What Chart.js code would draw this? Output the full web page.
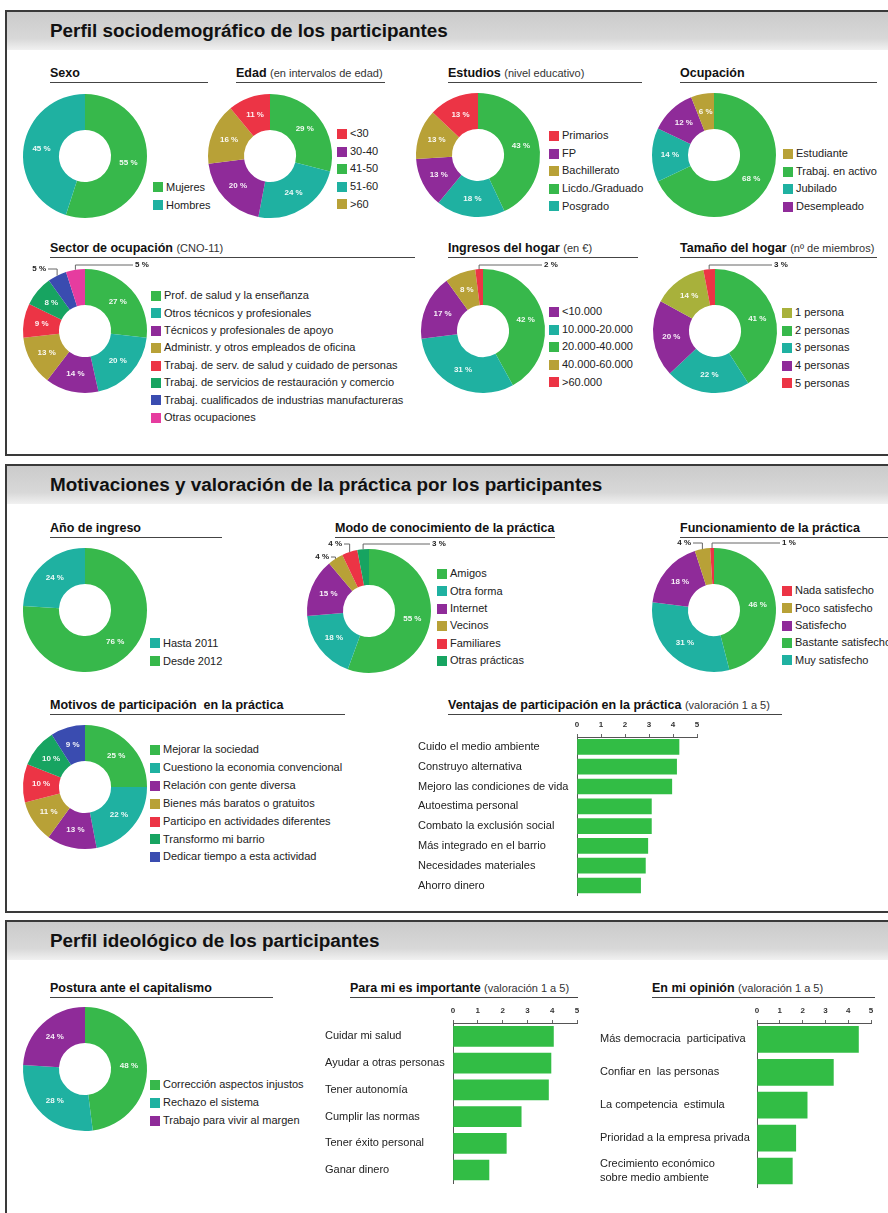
<!DOCTYPE html>
<html lang="es">
<head>
<meta charset="utf-8">
<title>Perfil de los participantes</title>
<script src="https://cdn.jsdelivr.net/npm/chart.js@4.4.1/dist/chart.umd.min.js"></script>
<style>
  body { margin: 0; width: 888px; height: 1213px; position: relative; overflow: hidden; background: #fff;
         font-family: "Liberation Sans", Arial, sans-serif; color: #222; }
  .panel { position: absolute; left: 5px; width: 900px; border: 2px solid #3a3a3a; border-right: none; box-sizing: border-box; }
  .band { height: 38px; background: linear-gradient(#cbcbcb, #d8d8d8 70%, #f1f1f1); }
  .band h1 { margin: 0; font-size: 18.9px; font-weight: bold; line-height: 38px; padding-left: 43px; color: #111; }
  .sub { position: absolute; height: 16px; border-bottom: 1px solid #444; font-size: 12.5px; font-weight: bold;
         line-height: 15px; white-space: nowrap; color: #111; }
  .sub span { font-weight: normal; font-size: 11px; color: #333; }
  .legend { position: absolute; font-size: 11px; white-space: nowrap; color: #222; }
  .legend div { position: relative; padding-left: 13px; }
  .legend i { position: absolute; left: 0; width: 10px; height: 10px; }
  canvas { position: absolute; }
</style>
</head>
<body>

<div class="panel" style="top:10px;height:446px"><div class="band"><h1>Perfil sociodemográfico de los participantes</h1></div></div>
<div class="panel" style="top:464px;height:449px"><div class="band"><h1>Motivaciones y valoración de la práctica por los participantes</h1></div></div>
<div class="panel" style="top:920px;height:400px"><div class="band"><h1>Perfil ideológico de los participantes</h1></div></div>

<div class="sub" style="left:50px;top:66px;width:158px">Sexo</div>
<div class="sub" style="left:236px;top:66px;width:149px">Edad <span>(en intervalos de edad)</span></div>
<div class="sub" style="left:448px;top:66px;width:194px">Estudios <span>(nivel educativo)</span></div>
<div class="sub" style="left:680px;top:66px;width:197px">Ocupación</div>
<div class="sub" style="left:50px;top:241px;width:365px">Sector de ocupación <span>(CNO-11)</span></div>
<div class="sub" style="left:448px;top:241px;width:190px">Ingresos del hogar <span>(en €)</span></div>
<div class="sub" style="left:680px;top:241px;width:197px">Tamaño del hogar <span>(nº de miembros)</span></div>

<div class="sub" style="left:50px;top:521px;width:172px">Año de ingreso</div>
<div class="sub" style="left:335px;top:521px;width:220px">Modo de conocimiento de la práctica</div>
<div class="sub" style="left:680px;top:521px;width:210px">Funcionamiento de la práctica</div>
<div class="sub" style="left:50px;top:698px;width:295px">Motivos de participación&nbsp; en la práctica</div>
<div class="sub" style="left:448px;top:698px;width:334px">Ventajas de participación en la práctica <span>(valoración 1 a 5)</span></div>

<div class="sub" style="left:50px;top:981px;width:223px">Postura ante el capitalismo</div>
<div class="sub" style="left:350px;top:981px;width:228px">Para mi es importante <span>(valoración 1 a 5)</span></div>
<div class="sub" style="left:652px;top:981px;width:223px">En mi opinión <span>(valoración 1 a 5)</span></div>

<script>
const FONT = '"Liberation Sans", Arial, sans-serif';
Chart.defaults.font.family = FONT;

const GREEN = '#37b84b', TEAL = '#1fb1a1', PURPLE = '#8f2b99', OLIVE = '#b8a137', RED = '#ec3445',
      DKGREEN = '#17a461', BLUE = '#3a4cb0', PINK = '#e63c9f', YOLIVE = '#a8b13b', BARGREEN = '#32bd45';

// ---- doughnut data (legend order) + order of the slices clockwise from the top
const sexoLabels = ['Mujeres', 'Hombres'];
const sexoValues = [55, 45];
const sexoColors = [GREEN, TEAL];
const sexoOrder = [0, 1];

const edadLabels = ['<30', '30-40', '41-50', '51-60', '>60'];
const edadValues = [11, 20, 29, 24, 16];
const edadColors = [RED, PURPLE, GREEN, TEAL, OLIVE];
const edadOrder = [2, 3, 1, 4, 0];

const estudiosLabels = ['Primarios', 'FP', 'Bachillerato', 'Licdo./Graduado', 'Posgrado'];
const estudiosValues = [13, 13, 13, 43, 18];
const estudiosColors = [RED, PURPLE, OLIVE, GREEN, TEAL];
const estudiosOrder = [3, 4, 1, 2, 0];

const ocupLabels = ['Estudiante', 'Trabaj. en activo', 'Jubilado', 'Desempleado'];
const ocupValues = [6, 68, 14, 12];
const ocupColors = [OLIVE, GREEN, TEAL, PURPLE];
const ocupOrder = [1, 2, 3, 0];

const sectorLabels = ['Prof.  de salud  y la enseñanza', 'Otros técnicos y profesionales', 'Técnicos y profesionales de apoyo',
  'Administr. y otros empleados de oficina', 'Trabaj. de serv. de  salud y cuidado de personas',
  'Trabaj. de servicios de restauración y comercio', 'Trabaj. cualificados de industrias manufactureras', 'Otras ocupaciones'];
const sectorValues = [27, 20, 14, 13, 9, 8, 5, 5];
const sectorColors = [GREEN, TEAL, PURPLE, OLIVE, RED, DKGREEN, BLUE, PINK];
const sectorOrder = [0, 1, 2, 3, 4, 5, 6, 7];

const ingresosLabels = ['<10.000', '10.000-20.000', '20.000-40.000', '40.000-60.000', '>60.000'];
const ingresosValues = [17, 31, 42, 8, 2];
const ingresosColors = [PURPLE, TEAL, GREEN, OLIVE, RED];
const ingresosOrder = [2, 1, 0, 3, 4];

const tamanoLabels = ['1 persona', '2 personas', '3 personas', '4 personas', '5 personas'];
const tamanoValues = [14, 41, 22, 20, 3];
const tamanoColors = [YOLIVE, GREEN, TEAL, PURPLE, RED];
const tamanoOrder = [1, 2, 3, 0, 4];

const anoLabels = ['Hasta 2011', 'Desde 2012'];
const anoValues = [24, 76];
const anoColors = [TEAL, GREEN];
const anoOrder = [1, 0];

const modoLabels = ['Amigos', 'Otra forma', 'Internet', 'Vecinos', 'Familiares', 'Otras prácticas'];
const modoValues = [55, 18, 15, 4, 4, 3];
const modoColors = [GREEN, TEAL, PURPLE, OLIVE, RED, DKGREEN];
const modoOrder = [0, 1, 2, 3, 4, 5];

const funcLabels = ['Nada satisfecho', 'Poco satisfecho', 'Satisfecho', 'Bastante satisfecho', 'Muy satisfecho'];
const funcValues = [1, 4, 18, 46, 31];
const funcColors = [RED, OLIVE, PURPLE, GREEN, TEAL];
const funcOrder = [3, 4, 2, 1, 0];

const motivosLabels = ['Mejorar la sociedad', 'Cuestiono la economia convencional', 'Relación con gente diversa',
  'Bienes más baratos o gratuitos', 'Participo en actividades diferentes', 'Transformo mi barrio', 'Dedicar tiempo a esta actividad'];
const motivosValues = [25, 22, 13, 11, 10, 10, 9];
const motivosColors = [GREEN, TEAL, PURPLE, OLIVE, RED, DKGREEN, BLUE];
const motivosOrder = [0, 1, 2, 3, 4, 5, 6];

const posturaLabels = ['Corrección aspectos injustos', 'Rechazo el sistema', 'Trabajo para vivir al margen'];
const posturaValues = [48, 28, 24];
const posturaColors = [GREEN, TEAL, PURPLE];
const posturaOrder = [0, 1, 2];

// ---- bar data (valoración 1 a 5)
const ventajasLabels = ['Cuido el medio ambiente', 'Construyo alternativa', 'Mejoro las condiciones de vida', 'Autoestima personal',
  'Combato la exclusión social', 'Más integrado en el barrio', 'Necesidades materiales', 'Ahorro dinero'];
const ventajasValues = [4.25, 4.15, 3.95, 3.1, 3.1, 2.95, 2.85, 2.65];

const importanteLabels = ['Cuidar mi salud', 'Ayudar a otras personas', 'Tener autonomía', 'Cumplir las normas', 'Tener éxito personal', 'Ganar dinero'];
const importanteValues = [4.05, 3.95, 3.85, 2.75, 2.15, 1.45];

const opinionLabels = ['Más democracia  participativa', 'Confiar en  las personas', 'La competencia  estimula',
  'Prioridad a la empresa privada', ['Crecimiento económico', 'sobre medio ambiente']];
const opinionValues = [4.45, 3.35, 2.2, 1.7, 1.55];

// percent labels inside the ring, or outside with a leader line for thin slices
const sliceLabels = {
  id: 'sliceLabels',
  afterDatasetsDraw(chart, args, opts) {
    const ctx = chart.ctx;
    const vals = chart.data.datasets[0].data;
    const leaders = opts.leaders || [];
    ctx.save();
    ctx.font = 'bold 8px ' + FONT;
    ctx.textBaseline = 'middle';
    chart.getDatasetMeta(0).data.forEach((arc, i) => {
      const p = arc.getProps(['x', 'y', 'startAngle', 'endAngle', 'innerRadius', 'outerRadius'], true);
      const mid = (p.startAngle + p.endAngle) / 2;
      const text = vals[i] + ' %';
      const lead = leaders.find(l => l.index === i);
      if (!lead) {
        const r = (p.innerRadius + p.outerRadius) / 2;
        ctx.fillStyle = 'rgba(255,255,255,0.93)';
        ctx.textAlign = 'center';
        ctx.fillText(text, p.x + Math.cos(mid) * r, p.y + Math.sin(mid) * r);
        return;
      }
      const sx = p.x + Math.cos(mid) * p.outerRadius, sy = p.y + Math.sin(mid) * p.outerRadius;
      const ex = p.x + lead.to[0], ey = p.y + lead.to[1];
      ctx.strokeStyle = '#666';
      ctx.lineWidth = 1;
      ctx.beginPath();
      ctx.moveTo(sx, sy);
      ctx.lineTo(sx, ey);
      ctx.lineTo(ex, ey);
      ctx.stroke();
      ctx.fillStyle = '#222';
      ctx.textAlign = lead.side === 'right' ? 'left' : 'right';
      ctx.fillText(text, ex + (lead.side === 'right' ? 2 : -2), ey);
    });
    ctx.restore();
  }
};

function addCanvas(left, top, w, h) {
  const c = document.createElement('canvas');
  c.width = w; c.height = h;
  c.style.left = left + 'px'; c.style.top = top + 'px';
  document.body.appendChild(c);
  return c;
}

function legend(x, y, labels, colors, step) {
  const el = document.createElement('div');
  el.className = 'legend';
  el.style.left = x + 'px';
  el.style.top = (y - step / 2) + 'px';
  labels.forEach((l, i) => {
    const row = document.createElement('div');
    row.style.height = row.style.lineHeight = step + 'px';
    row.innerHTML = `<i style="background:${colors[i]};top:${(step - 10) / 2}px"></i>${l}`;
    el.appendChild(row);
  });
  document.body.appendChild(el);
}

function donut(cx, cy, labels, values, colors, order, leaders) {
  const c = addCanvas(cx - 120, cy - 85, 240, 170);
  return new Chart(c, {
    type: 'doughnut',
    data: {
      labels: order.map(i => labels[i]),
      datasets: [{
        data: order.map(i => values[i]),
        backgroundColor: order.map(i => colors[i]),
        borderWidth: 0,
      }],
    },
    options: {
      responsive: false,
      animation: false,
      events: [],
      cutout: '42%',
      layout: { padding: { top: 23, bottom: 23, left: 58, right: 58 } },
      plugins: {
        legend: { display: false },
        tooltip: { enabled: false },
        sliceLabels: { leaders: leaders || [] },
      },
    },
    plugins: [sliceLabels],
  });
}

function bars(left, top, w, h, axisW, labels, values, thick) {
  const c = addCanvas(left, top, w, h);
  return new Chart(c, {
    type: 'bar',
    data: { labels: labels, datasets: [{ data: values, backgroundColor: BARGREEN, barThickness: thick, borderWidth: 0 }] },
    options: {
      indexAxis: 'y',
      responsive: false,
      animation: false,
      events: [],
      layout: { padding: { right: 8, bottom: 4 } },
      plugins: { legend: { display: false }, tooltip: { enabled: false } },
      scales: {
        x: {
          position: 'top', min: 0, max: 5,
          ticks: { stepSize: 1, color: '#333', padding: 4, font: { size: 8, weight: 'bold' } },
          grid: { drawOnChartArea: false, tickLength: 3, color: '#666' },
          border: { color: '#555' },
          afterFit: s => { s.height = 17; },
        },
        y: {
          ticks: { crossAlign: 'far', color: '#222', padding: 0, font: { size: 11 } },
          grid: { display: false },
          border: { display: true, color: '#555' },
          afterFit: s => { s.width = axisW; },
        },
      },
    },
  });
}

// legends (HTML, same arrays)
legend(153, 187, sexoLabels, sexoColors, 18);
legend(337, 134, edadLabels, edadColors, 17.6);
legend(549, 136, estudiosLabels, estudiosColors, 17.6);
legend(783, 154, ocupLabels, ocupColors, 17.6);
legend(151, 296, sectorLabels, sectorColors, 17.4);
legend(549, 312, ingresosLabels, ingresosColors, 17.6);
legend(782, 313, tamanoLabels, tamanoColors, 17.6);
legend(150, 643, anoLabels, anoColors, 18);
legend(437, 574, modoLabels, modoColors, 17.4);
legend(782, 591, funcLabels, funcColors, 17.3);
legend(150, 750, motivosLabels, motivosColors, 17.9);
legend(150, 1085, posturaLabels, posturaColors, 17.8);

// doughnuts
donut(85, 156, sexoLabels, sexoValues, sexoColors, sexoOrder);
donut(270, 156, edadLabels, edadValues, edadColors, edadOrder);
donut(478, 155, estudiosLabels, estudiosValues, estudiosColors, estudiosOrder);
donut(714, 155, ocupLabels, ocupValues, ocupColors, ocupOrder);
donut(85, 331, sectorLabels, sectorValues, sectorColors, sectorOrder,
  [{ index: 7, side: 'right', to: [48, -66] }, { index: 6, side: 'left', to: [-37, -62] }]);
donut(483, 331, ingresosLabels, ingresosValues, ingresosColors, ingresosOrder,
  [{ index: 4, side: 'right', to: [59, -66] }]);
donut(715, 331, tamanoLabels, tamanoValues, tamanoColors, tamanoOrder,
  [{ index: 4, side: 'right', to: [57, -66] }]);
donut(85, 610, anoLabels, anoValues, anoColors, anoOrder);
donut(369, 611, modoLabels, modoValues, modoColors, modoOrder,
  [{ index: 5, side: 'right', to: [61, -67] }, { index: 4, side: 'left', to: [-25, -67] }, { index: 3, side: 'left', to: [-38, -54] }]);
donut(714, 610, funcLabels, funcValues, funcColors, funcOrder,
  [{ index: 4, side: 'right', to: [66, -67] }, { index: 3, side: 'left', to: [-21, -67] }]);
donut(85, 787, motivosLabels, motivosValues, motivosColors, motivosOrder);
donut(85, 1069, posturaLabels, posturaValues, posturaColors, posturaOrder);

// bar charts
bars(418, 720, 287, 182, 159, ventajasLabels, ventajasValues, 15);
bars(325, 1006, 260, 184, 128, importanteLabels, importanteValues, 20);
bars(600, 1006, 279, 188, 157, opinionLabels, opinionValues, 26);
</script>
</body>
</html>
